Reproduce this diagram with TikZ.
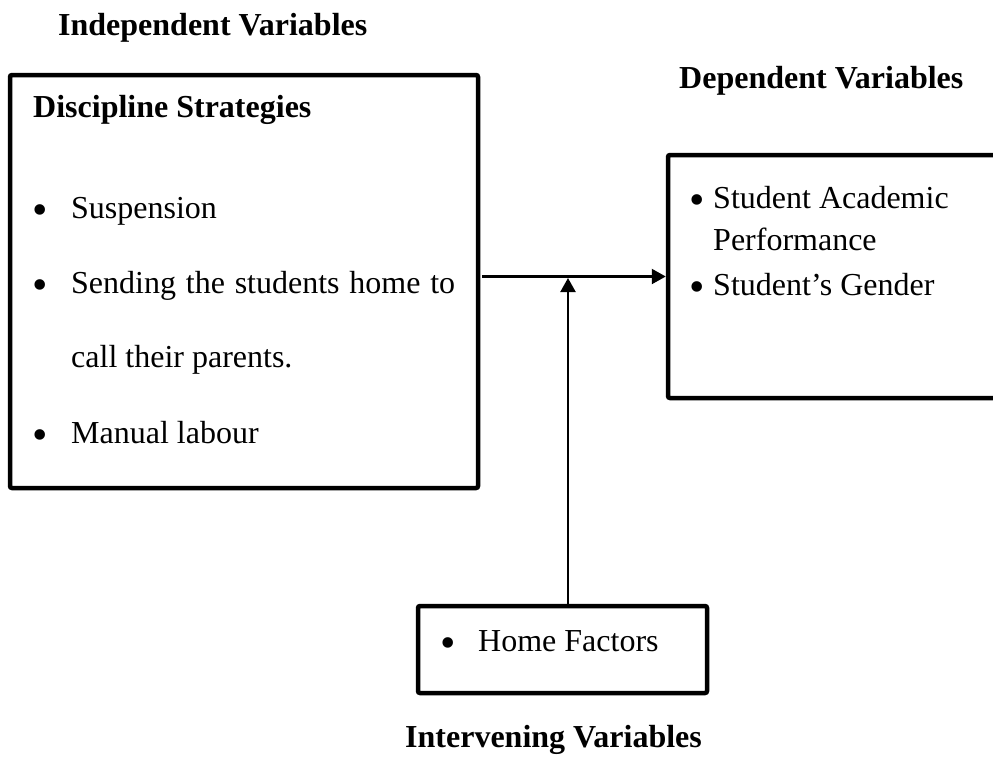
\documentclass[tikz,border=0pt]{standalone}
\usepackage{fontspec}
\setmainfont{Liberation Serif}
\usetikzlibrary{arrows.meta}
\newcommand{\bigbul}{{\fontsize{44}{44}\selectfont\raisebox{-6pt}{•}}}
\tikzset{
  frame/.style={draw=black, line width=4.5pt, rounded corners=2pt, inner sep=0pt},
  txt/.style={anchor=base west, inner sep=0pt},
  conn/.style={draw=black, line width=2.2pt, -{Triangle[length=14pt,width=15pt]}},
}
\begin{document}
\begin{tikzpicture}[x=1pt,y=-1pt,font=\fontsize{32}{38}\selectfont]
\useasboundingbox (0,0) rectangle (993,756);
\clip (0,0) rectangle (993,756);
% boxes
\node[frame, minimum width=468pt, minimum height=413pt] (indep) at (244,281.5) {};
\node[frame, minimum width=342pt, minimum height=243pt] (dep) at (839,276.5) {};
\node[frame, minimum width=289pt, minimum height=87pt] (home) at (562.5,649.5) {};
% headings
\node[txt] (hind) at (58,35) {\bfseries Independent Variables};
\node[txt] (hdep) at (679,88) {\bfseries Dependent Variables};
\node[txt] (hint) at (405,747) {\bfseries Intervening Variables};
% left box content
\node[txt] (ds) at (33,117) {\bfseries Discipline Strategies};
\node[txt] (b1) at (32,218) {\bigbul};
\node[txt] (t1) at (71,218) {Suspension};
\node[txt] (b2) at (32,293) {\bigbul};
\node[txt] (t2) at (71,293) {\makebox[384pt][s]{Sending the students home to}};
\node[txt] (t2b) at (71,367) {call their parents.};
\node[txt] (b3) at (32,443) {\bigbul};
\node[txt] (t3) at (71,443) {Manual labour};
% right box content
\node[txt] (rb1) at (689,208) {\bigbul};
\node[txt] (r1) at (713,208) {Student Academic};
\node[txt] (r1b) at (713,250) {Performance};
\node[txt] (rb2) at (689,295) {\bigbul};
\node[txt] (r2) at (713,295) {Student’s Gender};
% home box content
\node[txt] (hb) at (440,651) {\bigbul};
\node[txt] (h1) at (478,651) {Home Factors};
% connectors
\coordinate (j) at (568,276);
\draw[conn] ([xshift=2pt]indep.east |- dep.west) -- (dep.west);
\draw[conn] (home.north -| j) -- ([yshift=-2pt]j);
\end{tikzpicture}
\end{document}
